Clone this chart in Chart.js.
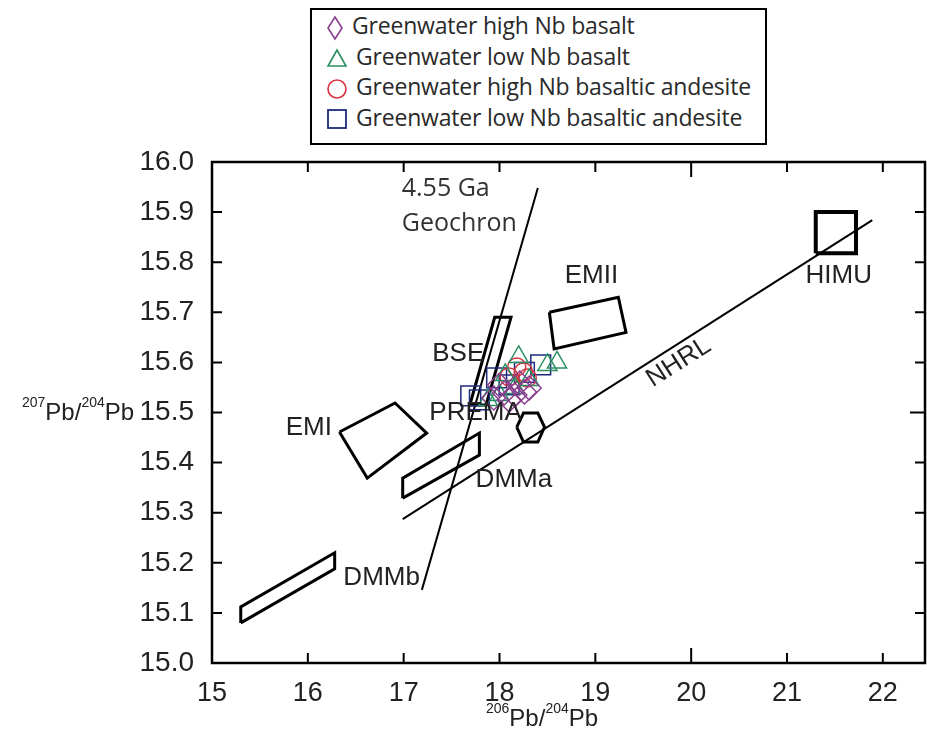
<!DOCTYPE html>
<html>
<head>
<meta charset="utf-8">
<script src="https://cdn.jsdelivr.net/npm/chart.js@4.4.1/dist/chart.umd.min.js"></script>
<style>
  body { margin:0; background:#fff; }
  #wrap { position:relative; width:927px; height:738px; }
  #legend { position:absolute; left:310px; top:8px; width:453px; height:133px; border:2px solid #000; background:#fff;
            font-family:"Open Sans", sans-serif; font-size:23px; color:#2a2a2a; letter-spacing:-0.2px; }
  #legend div { height:30.5px; line-height:30.5px; padding-left:14px; white-space:nowrap; }
  #legend svg { vertical-align:middle; margin-right:8px; }
  .atitle { position:absolute; font-family:"Liberation Sans Narrow","Liberation Sans",sans-serif; font-size:24px; color:#222; white-space:nowrap; }
  .atitle sup { font-size:14px; vertical-align:top; position:relative; top:-4px; }
</style>
</head>
<body>
<div id="wrap">
  <canvas id="ch1" width="927" height="738"></canvas>
  <div id="legend"></div>
  <div class="atitle" style="left:22px;top:398px;"><sup>207</sup>Pb/<sup>204</sup>Pb</div>
  <div class="atitle" style="left:486px;top:704px;"><sup>206</sup>Pb/<sup>204</sup>Pb</div>
</div>
<script>
// series
var seriesNames = ['Greenwater high Nb basalt','Greenwater low Nb basalt','Greenwater high Nb basaltic andesite','Greenwater low Nb basaltic andesite'];
var seriesColors = ['#8b3f8f','#2a8f62','#d8323f','#1f2b7d'];

var hiBasaltX = [18.00, 18.05, 18.16, 18.21, 18.26, 17.94, 18.10, 18.31];
var hiBasaltY = [15.555, 15.539, 15.535, 15.559, 15.541, 15.529, 15.525, 15.549];
var loBasaltX = [18.20, 18.50, 18.60, 17.88, 18.06, 18.31, 18.00, 18.16];
var loBasaltY = [15.611, 15.595, 15.600, 15.525, 15.575, 15.565, 15.535, 15.549];
var hiAndesX = [18.18, 18.25, 18.10, 18.29];
var hiAndesY = [15.591, 15.581, 15.571, 15.569];
var loAndesX = [17.70, 18.43, 18.26, 17.97, 18.10, 17.79];
var loAndesY = [15.533, 15.595, 15.580, 15.569, 15.555, 15.525];

// mantle reservoir fields + reference lines
var emiX = [16.33, 16.91, 17.24, 16.62], emiY = [15.461, 15.519, 15.459, 15.369];
var emiiX = [18.52, 19.24, 19.32, 18.57], emiiY = [15.700, 15.730, 15.660, 15.627];
var dmmaX = [16.99, 16.99, 17.79, 17.79], dmmaY = [15.329, 15.369, 15.459, 15.415];
var dmmbX = [15.30, 15.30, 16.28, 16.28], dmmbY = [15.080, 15.112, 15.220, 15.188];
var bseX = [17.69, 17.95, 18.12, 17.86], bseY = [15.515, 15.690, 15.690, 15.515];
var premaX = [18.18, 18.25, 18.40, 18.47, 18.40, 18.25], premaY = [15.471, 15.499, 15.499, 15.471, 15.441, 15.441];
var himuX = [21.30, 21.30, 21.72, 21.72], himuY = [15.818, 15.900, 15.900, 15.818];
var geochronX = [17.19, 18.40], geochronY = [15.146, 15.948];
var nhrlX = [16.99, 21.89], nhrlY = [15.287, 15.884];

var labelNames = ['EMI','BSE','PREMA','DMMa','DMMb','EMII','HIMU'];
var labelX = [16.01, 17.57, 17.75, 18.15, 16.77, 18.96, 21.54];
var labelY = [15.469, 15.617, 15.500, 15.365, 15.170, 15.772, 15.772];
var nhrlLabel = { text:'NHRL', x:19.87, y:15.600 };
var geoLabel = { lines:['4.55 Ga','Geochron'], x:16.98, y:[15.946, 15.876] };

var xMin = 15, xMax = 22.44, yMin = 15.0, yMax = 16.0;

function pts(xs, ys, close) {
  var out = [];
  for (var i = 0; i < xs.length; i++) out.push({x:xs[i], y:ys[i]});
  if (close) out.push({x:xs[0], y:ys[0]});
  return out;
}

// legend in html so the text stays text
var shapesSvg = [
  '<svg width="18" height="26"><polygon points="9,2 16,13 9,24 2,13" fill="none" stroke="#8b3f8f" stroke-width="1.6"/></svg>',
  '<svg width="22" height="20"><polygon points="11,2 20,18 2,18" fill="none" stroke="#2a8f62" stroke-width="1.6"/></svg>',
  '<svg width="22" height="22"><circle cx="11" cy="11" r="9" fill="none" stroke="#d8323f" stroke-width="1.6"/></svg>',
  '<svg width="22" height="22"><rect x="2" y="2" width="18" height="18" fill="none" stroke="#1f2b7d" stroke-width="1.8"/></svg>'
];
var lg = '';
for (var i = 0; i < seriesNames.length; i++) {
  lg += '<div>' + shapesSvg[i] + seriesNames[i] + '</div>';
}
document.getElementById('legend').innerHTML = lg;

var fieldStyle = { showLine:true, fill:false, borderColor:'#000', borderWidth:3, pointRadius:0, pointHoverRadius:0, tension:0 };
function field(data, w) { return Object.assign({}, fieldStyle, {data:data, borderWidth:w || 3}); }

var datasets = [
  {label:seriesNames[0], data:pts(hiBasaltX, hiBasaltY), pointStyle:'rectRot', radius:12, borderColor:seriesColors[0], backgroundColor:'transparent', borderWidth:1.5},
  {label:seriesNames[1], data:pts(loBasaltX, loBasaltY), pointStyle:'triangle', radius:11, borderColor:seriesColors[1], backgroundColor:'transparent', borderWidth:1.5},
  {label:seriesNames[2], data:pts(hiAndesX, hiAndesY), pointStyle:'circle', radius:9, borderColor:seriesColors[2], backgroundColor:'transparent', borderWidth:1.5},
  {label:seriesNames[3], data:pts(loAndesX, loAndesY), pointStyle:'rect', radius:14, borderColor:seriesColors[3], backgroundColor:'transparent', borderWidth:1.5},
  field(pts(emiX, emiY, true)),
  field(pts(emiiX, emiiY, true)),
  field(pts(dmmaX, dmmaY, true)),
  field(pts(dmmbX, dmmbY, true)),
  field(pts(bseX, bseY, true)),
  field(pts(premaX, premaY, true)),
  field(pts(himuX, himuY, true), 4),
  field(pts(geochronX, geochronY), 2),
  field(pts(nhrlX, nhrlY), 2)
];

// frame + inward ticks on all four sides, and the field names
var framePlugin = {
  id:'frame',
  afterDatasetsDraw: function(chart) {
    var c = chart.ctx, a = chart.chartArea, sx = chart.scales.x, sy = chart.scales.y;
    c.save();
    c.strokeStyle = '#000';
    c.lineWidth = 2.5;
    c.beginPath();
    c.moveTo(a.left, a.top); c.lineTo(a.right, a.top); c.lineTo(a.right, a.bottom); c.lineTo(a.left, a.bottom); c.closePath();
    c.stroke();
    c.lineWidth = 2;
    sx.ticks.forEach(function(t) {
      var px = sx.getPixelForValue(t.value);
      var len = (t.value == 20) ? 15 : 10;
      c.beginPath(); c.moveTo(px, a.bottom); c.lineTo(px, a.bottom - len);
      c.moveTo(px, a.top); c.lineTo(px, a.top + len); c.stroke();
    });
    sy.ticks.forEach(function(t) {
      var py = sy.getPixelForValue(t.value);
      var len = (Math.abs(t.value - 15.5) < 0.01) ? 15 : 10;
      c.beginPath(); c.moveTo(a.left, py); c.lineTo(a.left + 10, py);
      c.moveTo(a.right, py); c.lineTo(a.right - len, py); c.stroke();
    });

    c.fillStyle = '#222';
    c.font = '26px "Liberation Sans Narrow", "Liberation Sans", sans-serif';
    c.textAlign = 'center'; c.textBaseline = 'middle';
    for (var i = 0; i < labelNames.length; i++) {
      c.fillText(labelNames[i], sx.getPixelForValue(labelX[i]), sy.getPixelForValue(labelY[i]));
    }
    // NHRL follows the line
    var ang = Math.atan2(sy.getPixelForValue(nhrlY[1]) - sy.getPixelForValue(nhrlY[0]), sx.getPixelForValue(nhrlX[1]) - sx.getPixelForValue(nhrlX[0]));
    c.save();
    c.translate(sx.getPixelForValue(nhrlLabel.x), sy.getPixelForValue(nhrlLabel.y));
    c.rotate(ang);
    c.fillText(nhrlLabel.text, 0, 0);
    c.restore();

    c.fillStyle = '#333';
    c.font = '25px "Open Sans", sans-serif';
    c.textAlign = 'left';
    for (var j = 0; j < geoLabel.lines.length; j++) {
      c.fillText(geoLabel.lines[j], sx.getPixelForValue(geoLabel.x), sy.getPixelForValue(geoLabel.y[j]));
    }
    c.restore();
  }
};

var chart = new Chart(document.getElementById('ch1').getContext('2d'), {
  type:'scatter',
  data:{ datasets:datasets },
  options:{
    responsive:false,
    animation:false,
    layout:{ autoPadding:false, padding:{ top:162, right:2, left:0, bottom:0 } },
    plugins:{ legend:{display:false}, tooltip:{enabled:false} },
    scales:{
      x:{
        type:'linear', min:xMin, max:xMax,
        grid:{display:false, drawTicks:false}, border:{display:false},
        ticks:{ stepSize:1, includeBounds:false, padding:14, color:'#222',
                font:{family:'"Liberation Sans Narrow", "Liberation Sans", sans-serif', size:27},
                callback:function(v){ return v; } },
        afterFit:function(s){ s.height = 75; s.paddingLeft = 0; s.paddingRight = 0; }
      },
      y:{
        type:'linear', min:yMin, max:yMax,
        grid:{display:false, drawTicks:false}, border:{display:false},
        ticks:{ stepSize:0.1, padding:18, color:'#222',
                font:{family:'"Liberation Sans Narrow", "Liberation Sans", sans-serif', size:28},
                callback:function(v){ return v.toFixed(1); } },
        afterFit:function(s){ s.width = 212; s.paddingTop = 0; s.paddingBottom = 0; }
      }
    }
  },
  plugins:[framePlugin]
});
</script>
</body>
</html>
